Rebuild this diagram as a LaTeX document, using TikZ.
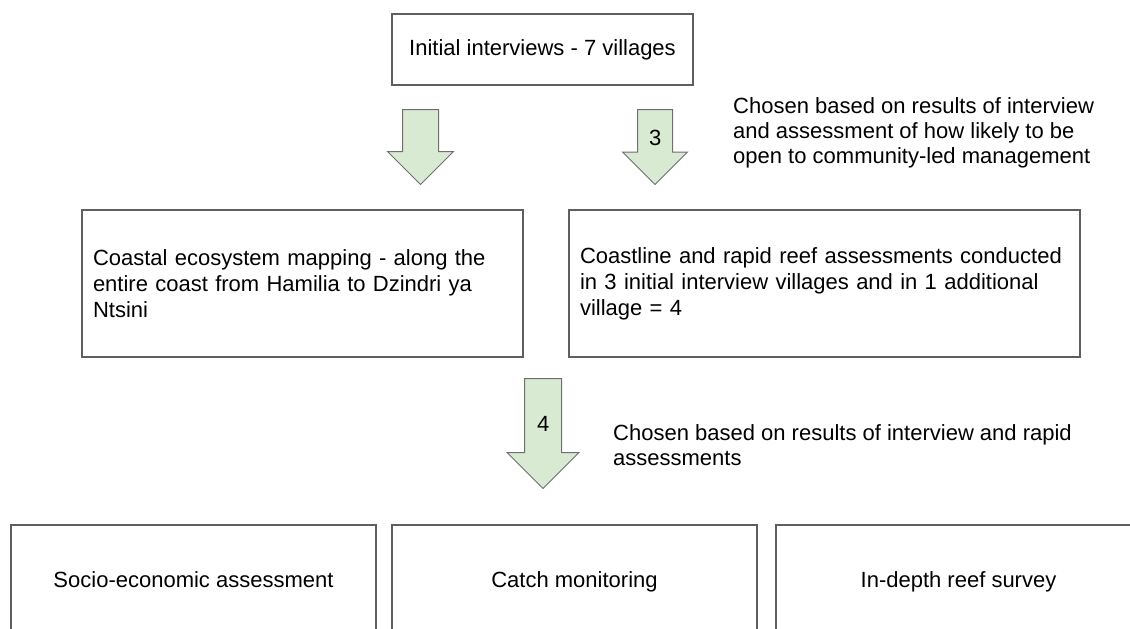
\documentclass[tikz,border=0pt]{standalone}
\usepackage{fontspec}
\setmainfont{Liberation Sans}
\usetikzlibrary{shapes.arrows, positioning}
\definecolor{arrowgreen}{HTML}{D9EAD3}
\definecolor{linegray}{HTML}{5F5F5F}

\begin{document}
\begin{tikzpicture}[x=1pt, y=-1pt, font=\fontsize{22}{26}\selectfont,
  box/.style={draw=linegray, line width=1.2pt, inner sep=11pt},
  onerow/.style={box, minimum width=365pt, minimum height=112pt, text height=16pt, text depth=4pt},
  blockarrow/.style={single arrow, shape border rotate=270, anchor=tail, draw=linegray!90, fill=arrowgreen,
    line width=1pt, text width=12pt, align=center, inner ysep=1pt},
  note/.style={anchor=west, align=left, inner sep=0pt, font=\fontsize{22}{25}\selectfont}]
\useasboundingbox (0,0) rectangle (1130,629);
\clip (0,0) rectangle (1130,629);
% first step
\node[box, minimum width=301pt, minimum height=71pt] (interviews) at (542.5, 49.5) {Initial interviews - 7 villages};
% block arrows down to the second row
\node[blockarrow, inner xsep=11.5pt, minimum height=75pt, minimum width=65pt, single arrow head extend=15pt] (toMapping) at (420.5, 109) {};
\node[blockarrow, inner xsep=11pt, minimum height=75pt, minimum width=65pt, single arrow head extend=15pt] (toReef) at (655, 109) {3};
\node[note] (choiceA) at (733, 133) {Chosen based on results of interview\\ and assessment of how likely to be\\ open to community-led management};
% second row
\node[box, minimum width=441pt, minimum height=147pt, text width=419pt, align=left] (mapping) at (302.5, 283.5)
  {Coastal ecosystem mapping - along the\\ entire coast from Hamilia to Dzindri ya\\ Ntsini};
\node[box, minimum width=511pt, minimum height=147pt, text width=489pt, align=left] (reef) at (824.5, 283.5)
  {Coastline and rapid reef assessments conducted\\ in 3 initial interview villages and in 1 additional\\ village = 4};
% four villages go on to the detailed work
\node[blockarrow, inner xsep=12pt, minimum height=110pt, minimum width=71pt, single arrow head extend=17.5pt] (toDetail) at (543, 378) {4};
\node[note] (choiceB) at (613, 445.5) {Chosen based on results of interview and rapid\\ assessments};
% third row, cut off at the bottom edge
\node[onerow] (socio) at (193.5, 581) {Socio-economic assessment};
\node[onerow] (catch) at (574.5, 581) {Catch monitoring};
\node[onerow] (survey) at (958.5, 581) {In-depth reef survey};
\end{tikzpicture}
\end{document}
